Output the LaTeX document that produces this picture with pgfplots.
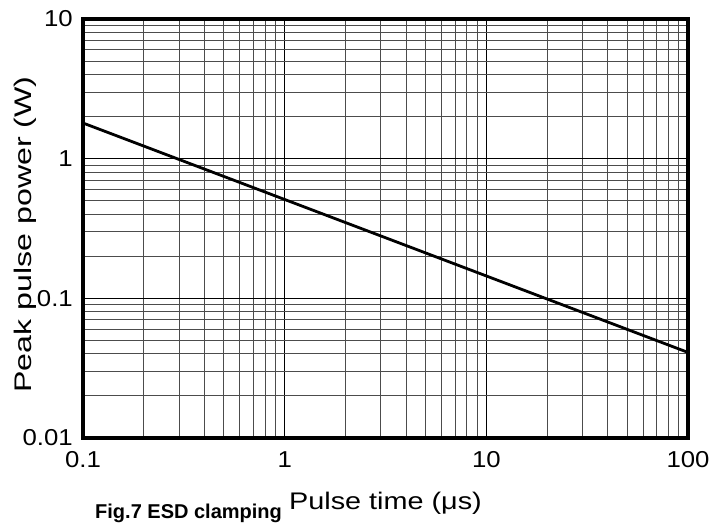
\documentclass[border=0pt]{standalone}
\usepackage{fontspec}
\setmainfont{Liberation Sans}
\newfontfamily\wide[FakeStretch=1.2]{Liberation Sans}
\newfontfamily\wider[FakeStretch=1.34]{Liberation Sans}
\newfontfamily\tickfont[FakeStretch=1.12]{Liberation Sans}
\usepackage{pgfplots}
\pgfplotsset{compat=1.18}
\begin{document}
\begin{tikzpicture}
\begin{axis}[
  scale only axis, width=605bp, height=419bp,
  xmode=log, ymode=log,
  xmin=0.1, xmax=100, ymin=0.01, ymax=10,
  xtick={0.1,1,10,100}, xticklabels={0.1,1,10,100},
  ytick={0.01,0.1,1,10}, yticklabels={0.01,0.1,1,10},
  minor xtick={0.2,0.3,0.4,0.5,0.6,0.7,0.8,0.9,2,3,4,5,6,7,8,9,20,30,40,50,60,70,80,90},
  minor ytick={0.02,0.03,0.04,0.05,0.06,0.07,0.08,0.09,0.2,0.3,0.4,0.5,0.6,0.7,0.8,0.9,2,3,4,5,6,7,8,9},
  major tick length=0pt, minor tick length=0pt,
  grid=both,
  major grid style={black, line width=1bp},
  minor grid style={black!70, line width=1bp},
  axis line style={line width=3.2bp},
  tick label style={font=\tickfont\fontsize{23bp}{26bp}\selectfont, inner sep=0pt},
  xticklabel style={anchor=north, yshift=-13bp},
  yticklabel style={anchor=east, xshift=-10bp},
  xlabel={Pulse time (μs)},
  ylabel={Peak pulse power (W)},
  xlabel style={font=\wide\fontsize{24bp}{27bp}\selectfont, inner sep=0pt,
    at={(axis description cs:0.5,0)}, anchor=base, yshift=-71bp},
  ylabel style={font=\wider\fontsize{24bp}{27bp}\selectfont, inner sep=0pt,
    at={(axis description cs:0,0.5)}, anchor=base, yshift=51bp, xshift=-6bp},
]
\addplot[black, line width=2.8bp] coordinates {(0.1,1.8)(100,0.041)};
\end{axis}
\node[anchor=base west, inner sep=0pt, font=\bfseries\fontsize{20bp}{23bp}\selectfont] at (12bp,-80bp) {Fig.7 ESD clamping};
\useasboundingbox (-83bp,-84bp) rectangle (629bp,438bp);
\end{tikzpicture}
\end{document}
